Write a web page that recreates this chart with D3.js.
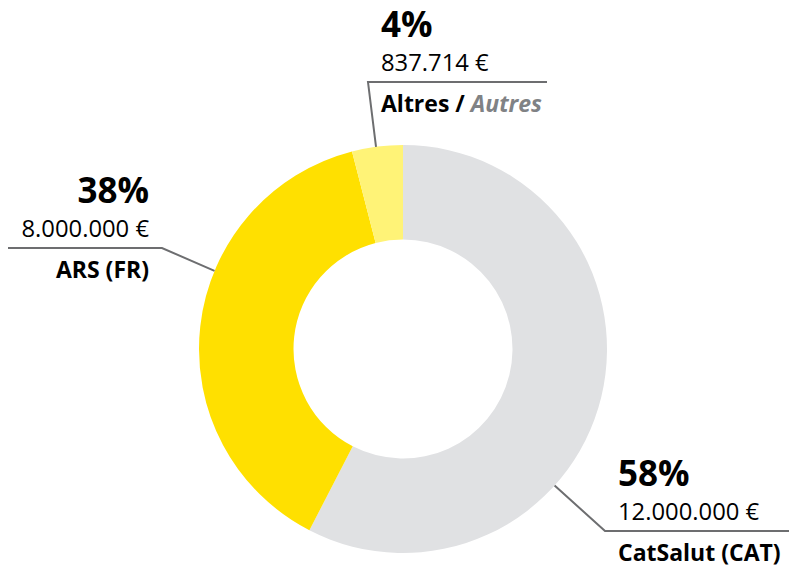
<!DOCTYPE html>
<html>
<head>
<meta charset="utf-8">
<script src="https://cdn.jsdelivr.net/npm/d3@7"></script>
<style>
  body { margin: 0; background: #fff; }
  svg { display: block; font-family: "Open Sans", sans-serif; }
</style>
</head>
<body>
<script>
// funding sources
const names = ["CatSalut (CAT)", "ARS (FR)", "Altres"];
const namesAlt = ["", "", "Autres"];
const amounts = [12000000, 8000000, 837714];
const colors = ["#e0e1e3", "#ffe000", "#fff377"];

// label layout: angle where the leader leaves the ring, elbow, text anchor point
const labelPos = [
  { angle: 132, elbow: [605, 531], end: [789, 531], tx: 618, anchor: "start" },
  { angle: 292.5, elbow: [162, 248], end: [8, 248], tx: 149, anchor: "end" },
  { angle: 352.4, elbow: [368, 82], end: [547, 82], tx: 381, anchor: "start" }
];

const width = 789, height = 567;
const cx = 403, cy = 349, outerR = 204, innerR = 109.5;

const svg = d3.select("body").append("svg")
    .attr("width", width)
    .attr("height", height);

const locale = d3.formatLocale({ decimal: ",", thousands: ".", grouping: [3], currency: ["", " €"] });
const money = locale.format("$,");
const total = d3.sum(amounts);

const data = names.map((n, i) => ({ name: n, alt: namesAlt[i], value: amounts[i], color: colors[i], pos: labelPos[i] }));

const pie = d3.pie().sort(null).value(d => d.value);
const arc = d3.arc().innerRadius(innerR).outerRadius(outerR);

let g = svg.append("g").attr("transform", `translate(${cx},${cy})`);

g.selectAll("path.slice")
    .data(pie(data))
    .enter().append("path")
    .attr("class", "slice")
    .attr("d", arc)
    .attr("fill", d => d.data.color);

// leader lines + labels
data.forEach(d => {
    const a = d.pos.angle * Math.PI / 180;
    const sx = cx + outerR * Math.sin(a), sy = cy - outerR * Math.cos(a);
    svg.append("polyline")
        .attr("points", [[sx, sy], d.pos.elbow, d.pos.end].map(p => p.join(",")).join(" "))
        .attr("fill", "none")
        .attr("stroke", "#6d6e70")
        .attr("stroke-width", 2);

    const y = d.pos.elbow[1];
    const t = svg.append("g").attr("text-anchor", d.pos.anchor).attr("fill", "#000");

    t.append("text")
        .attr("x", d.pos.tx).attr("y", y - 45)
        .attr("font-size", 35).attr("font-weight", 700)
        .text(Math.round(d.value / total * 100) + "%");

    t.append("text")
        .attr("x", d.pos.tx).attr("y", y - 11)
        .attr("font-size", 23.8)
        .text(money(d.value));

    let lab = t.append("text")
        .attr("x", d.pos.tx).attr("y", y + 30)
        .attr("font-size", 23).attr("font-weight", 700);
    lab.append("tspan").text(d.name);
    if (d.alt) {
        lab.append("tspan").text(" / ");
        lab.append("tspan").attr("font-style", "italic").attr("fill", "#808285").text(d.alt);
    }
});
</script>
</body>
</html>
